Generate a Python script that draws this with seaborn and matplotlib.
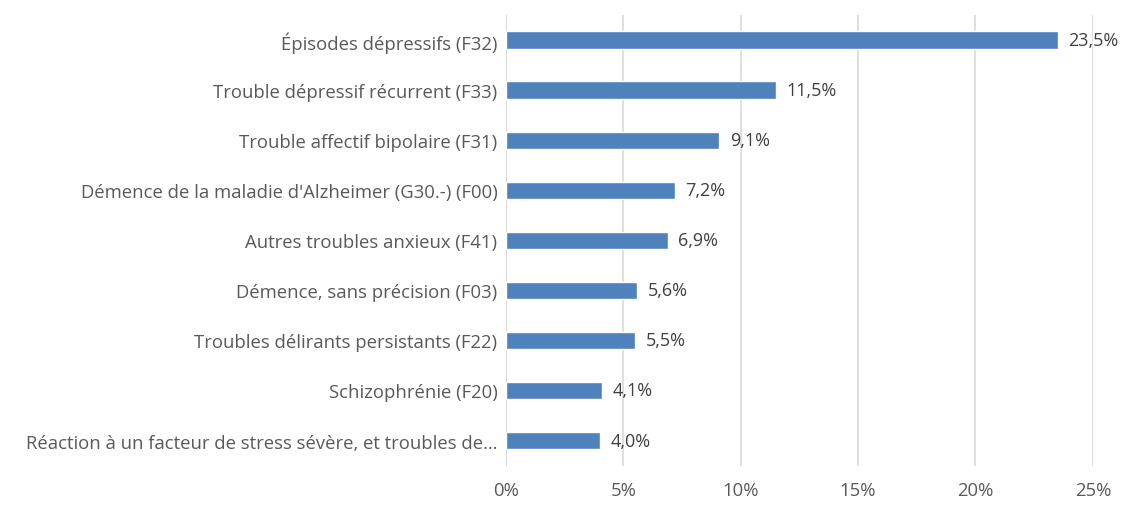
import pandas as pd
import seaborn as sns
import matplotlib.pyplot as plt
from matplotlib.ticker import FuncFormatter

categories = ["Épisodes dépressifs (F32)",
              "Trouble dépressif récurrent (F33)",
              "Trouble affectif bipolaire (F31)",
              "Démence de la maladie d'Alzheimer (G30.-) (F00)",
              "Autres troubles anxieux (F41)",
              "Démence, sans précision (F03)",
              "Troubles délirants persistants (F22)",
              "Schizophrénie (F20)",
              "Réaction à un facteur de stress sévère, et troubles de…"]
values = [23.5, 11.5, 9.1, 7.2, 6.9, 5.6, 5.5, 4.1, 4.0]
xticks = [0, 5, 10, 15, 20, 25]

df = pd.DataFrame({"cat": categories, "val": values})

sns.set_style("white")
plt.rcParams['font.family'] = ['Open Sans', 'DejaVu Sans']

fig = plt.figure(figsize=(11.29, 5.06), dpi=100)
ax = fig.add_axes([0.448, 0.078, 0.52, 0.89])
sns.barplot(data=df, x="val", y="cat", color="#4F81BD", width=0.35,
            saturation=1, ax=ax, zorder=3)

for i, v in enumerate(values):
    ax.text(v + 0.45, i, f"{v:.1f}%".replace(".", ","), va="center", ha="left",
            fontsize=13, color="#404040")

ax.set_xlim(0, 25)
ax.set_xticks(xticks)
ax.xaxis.set_major_formatter(FuncFormatter(lambda x, p: f"{x:.0f}%"))
ax.grid(axis="x", color="#D9D9D9", linewidth=1.2, zorder=0)
ax.axvline(0, color="#D9D9D9", linewidth=1.2, zorder=1)
for s in ax.spines.values():
    s.set_visible(False)
ax.set_xlabel("")
ax.set_ylabel("")
ax.tick_params(axis="both", length=0, labelsize=13.3, labelcolor="#595959")
ax.tick_params(axis="x", pad=11)
ax.tick_params(axis="y", pad=6)

plt.savefig("out.png", dpi=100)
